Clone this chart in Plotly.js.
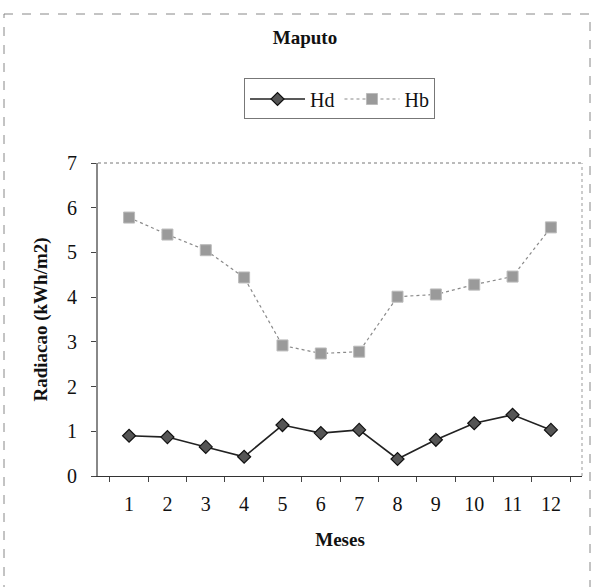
<!DOCTYPE html>
<html>
<head>
<meta charset="utf-8">
<script src="https://cdn.plot.ly/plotly-3.0.1.min.js"></script>
<style>
html,body{margin:0;padding:0;background:#fff;}
#chart{width:596px;height:587px;}
</style>
</head>
<body>
<div id="chart"></div>
<script>
var months = ["1","2","3","4","5","6","7","8","9","10","11","12"];
var hd = [0.90, 0.87, 0.65, 0.43, 1.14, 0.96, 1.03, 0.38, 0.81, 1.18, 1.37, 1.03];
var hb = [5.78, 5.40, 5.05, 4.44, 2.92, 2.74, 2.78, 4.01, 4.06, 4.28, 4.46, 5.56];
var yTicks = [0, 1, 2, 3, 4, 5, 6, 7];

var font = "Liberation Serif, Times New Roman, serif";

var traces = [
  {
    x: months, y: hd, name: "Hd", type: "scatter", mode: "lines+markers",
    line: {color: "#222", width: 1.6},
    marker: {symbol: "diamond", size: 10, color: "#555", line: {color: "#111", width: 1.2}}
  },
  {
    x: months, y: hb, name: "Hb", type: "scatter", mode: "lines+markers",
    line: {color: "#8a8a8a", width: 1.2, dash: "dot"},
    marker: {symbol: "square", size: 11, color: "#9a9a9a", line: {color: "#bbb", width: 1}}
  }
];

var layout = {
  width: 596, height: 587,
  margin: {l: 98, r: 14, t: 163, b: 111},
  paper_bgcolor: "#fff", plot_bgcolor: "#fff",
  font: {family: font, color: "#111", size: 19},
  showlegend: true,
  title: {
    text: "<b>Maputo</b>", font: {family: font, size: 19, color: "#111"},
    x: 305/596, xanchor: "center", xref: "container",
    y: 1 - 37/587, yanchor: "middle", yref: "container"
  },
  legend: {
    orientation: "h", x: 0.499, xanchor: "center", y: 1.27, yanchor: "top",
    bgcolor: "#fff", bordercolor: "#777", borderwidth: 1,
    font: {family: font, size: 20, color: "#111"},
    itemwidth: 55, tracegroupgap: 0
  },
  xaxis: {
    type: "category", tickmode: "array", tickvals: months, ticktext: months,
    showgrid: false, zeroline: false, showline: true, linecolor: "#333", linewidth: 1,
    ticks: "outside", tickson: "boundaries", ticklen: 5, tickcolor: "#444",
    ticklabelstandoff: 10,
    tickfont: {family: font, size: 20, color: "#111"},
    title: {text: "<b>Meses</b>", font: {family: font, size: 19, color: "#111"}, standoff: 18}
  },
  yaxis: {
    range: [0, 7], tickmode: "array", tickvals: yTicks, ticktext: yTicks.map(String),
    showgrid: false, zeroline: false, showline: true, linecolor: "#888", linewidth: 2,
    ticks: "outside", ticklen: 5, tickcolor: "#444",
    ticklabelstandoff: 10,
    tickfont: {family: font, size: 20, color: "#111"},
    title: {text: "<b>Radiacao (kWh/m2)</b>", font: {family: font, size: 19, color: "#111"}, standoff: 14}
  },
  shapes: [
    {type: "line", xref: "paper", yref: "paper", x0: 0, x1: 1, y0: 1, y1: 1,
     line: {color: "#777", width: 1, dash: "dot"}},
    {type: "line", xref: "paper", yref: "paper", x0: 1, x1: 1, y0: 0, y1: 1,
     line: {color: "#999", width: 1, dash: "dot"}},
    {type: "rect", xref: "paper", yref: "paper",
     x0: -94/484, x1: 590/484 - 98/484, y0: (476-14)/313, y1: (476-600)/313,
     line: {color: "#888", width: 1, dash: "dash"}, layer: "below"}
  ]
};

Plotly.newPlot("chart", traces, layout, {displayModeBar: false, staticPlot: true});
</script>
</body>
</html>
